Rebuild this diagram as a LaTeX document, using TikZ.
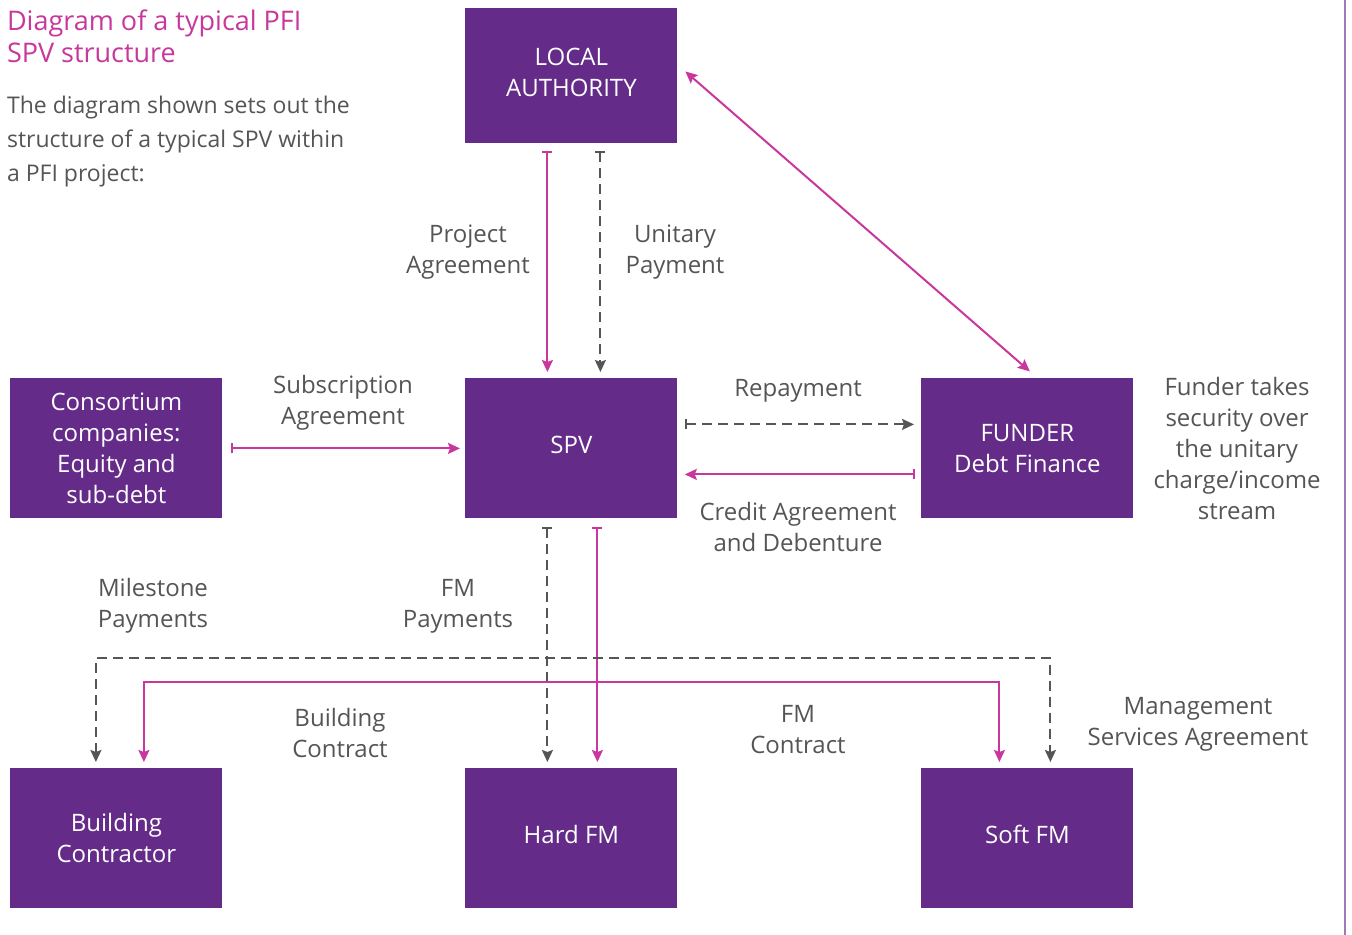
\documentclass[tikz,border=0pt]{standalone}
\usepackage{fontspec}
\setmainfont{Open Sans}
\usetikzlibrary{arrows.meta}
\definecolor{pfipurple}{HTML}{642C88}
\definecolor{pfipink}{HTML}{C8379B}
\definecolor{pfigrey}{HTML}{555555}
\definecolor{pfiedge}{HTML}{9B7BB8}

\begin{document}
\begin{tikzpicture}[x=0.5pt,y=-0.5pt,
	party/.style={fill=pfipurple, text=white, minimum width=106pt, minimum height=70pt, inner sep=0pt, align=center, anchor=north west, font=\fontsize{12}{15.5}\selectfont},
	lbl/.style={text=pfigrey, align=center, font=\fontsize{12}{15.5}\selectfont},
	deal/.style={pfipink, line width=1pt, {Bar[width=5pt]}-{Stealth[length=6pt,width=5.5pt,inset=1pt]}},
	cash/.style={pfigrey, line width=1pt, dash pattern=on 5pt off 3pt, {Bar[width=5pt]}-{Stealth[length=6pt,width=5.5pt,inset=1pt]}},
	tip/.style={{Stealth[length=6pt,width=5.5pt,inset=1pt]}-{Stealth[length=6pt,width=5.5pt,inset=1pt]}}]
			\useasboundingbox (0,0) rectangle (1352,935);
			\draw[pfiedge, line width=1pt] (1345,0) -- (1345,935);

			\node[party, minimum height=67.5pt] (la) at (465,8) {LOCAL\\AUTHORITY\\[-11.5pt]\mbox{}};
			\node[party] (spv) at (465,378) {SPV\\[-11.5pt]\mbox{}};
			\node[party] (cons) at (10,378) {Consortium\\companies:\\Equity and\\sub-debt};
			\node[party] (funder) at (921,378) {FUNDER\\Debt Finance};
			\node[party] (build) at (10,768) {Building\\Contractor};
			\node[party] (hard) at (465,768) {Hard FM\\[-11.5pt]\mbox{}};
			\node[party] (soft) at (921,768) {Soft FM\\[-11.5pt]\mbox{}};

			\node[text=pfipink, align=left, anchor=north west, font=\fontsize{13.5}{16}\selectfont] (title) at (0,3) {Diagram of a typical PFI\\SPV structure};
			\node[text=pfigrey, align=left, anchor=north west, font=\fontsize{11.5}{17}\selectfont] (intro) at (0,89) {The diagram shown sets out the\\structure of a typical SPV within\\a PFI project:};

			\draw[deal, shorten <=3.5pt, shorten >=3pt] ([xshift=-12pt]la.south) -- ([xshift=-12pt]spv.north);
			\draw[cash, shorten <=3.5pt, shorten >=3pt] ([xshift=14.5pt]la.south) -- ([xshift=14.5pt]spv.north);
			\draw[deal, tip, shorten <=5pt, shorten >=5pt] ([yshift=5.5pt]la.east) -- ([xshift=5pt]funder.north);
			\draw[deal, shorten <=4pt, shorten >=2.5pt] (cons.east) -- (spv.west);
			\draw[cash, shorten <=3.5pt, shorten >=3.5pt] ([yshift=12pt]spv.east) -- ([yshift=12pt]funder.west);
			\draw[deal, shorten <=3pt, shorten >=3.5pt] ([yshift=-13pt]funder.west) -- ([yshift=-13pt]spv.east);
			\draw[cash, shorten <=4pt, shorten >=3pt] ([xshift=-12pt]spv.south) -- ([xshift=-12pt]hard.north);
			\draw[deal, shorten <=4pt, shorten >=3pt] ([xshift=13pt]spv.south) -- ([xshift=13pt]hard.north);
			\draw[cash, tip, shorten <=3pt, shorten >=3pt] ([xshift=-10.25pt]build.north) -- ++(0,-110) -| ([xshift=11.5pt]soft.north);
			\draw[deal, tip, shorten <=3pt, shorten >=3pt] ([xshift=13.75pt]build.north) -- ++(0,-86) -| ([xshift=-14pt]soft.north);

			\node[lbl] (projlbl) at (468,252) {Project\\Agreement};
			\node[lbl] (unitlbl) at (675,252) {Unitary\\Payment};
			\node[lbl] (sublbl) at (343,403) {Subscription\\Agreement};
			\node[lbl] (replbl) at (798,391) {Repayment};
			\node[lbl] (credlbl) at (798,527) {Credit Agreement\\and Debenture};
			\node[lbl] (seclbl) at (1237,448) {Funder takes\\security over\\the unitary\\charge/income\\stream};
			\node[lbl] (milelbl) at (153,606) {Milestone\\Payments};
			\node[lbl] (fmpaylbl) at (458,606) {FM\\Payments};
			\node[lbl] (bclbl) at (340,733) {Building\\Contract};
			\node[lbl] (fmclbl) at (798,730) {FM\\Contract};
			\node[lbl] (msalbl) at (1198,724) {Management\\Services Agreement};
		\end{tikzpicture}
\end{document}
